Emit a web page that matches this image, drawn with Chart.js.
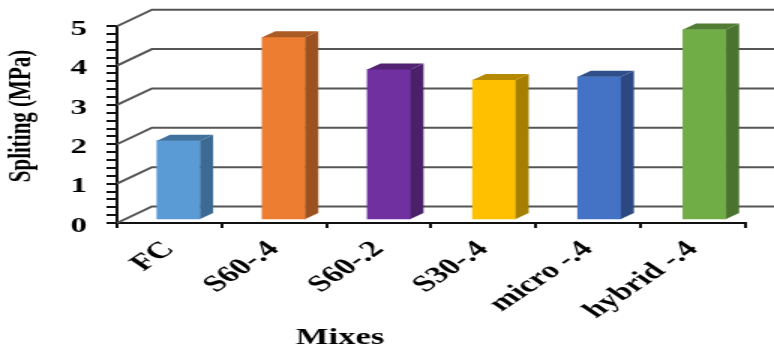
<!DOCTYPE html>
<html>
<head>
<meta charset="utf-8">
<style>
  html, body { margin: 0; background: #fff; overflow: hidden; }
  /* the figure is drawn narrow and widened by half */
  #wrap { width: 516px; height: 352px; transform: scaleX(1.5); transform-origin: 0 0; }
</style>
<script src="https://cdn.jsdelivr.net/npm/chart.js@4/dist/chart.umd.min.js"></script>
</head>
<body>
<div id="wrap"><canvas id="chart" width="516" height="352"></canvas></div>
<script>
/* data */
const mixes = ['FC', 'S60-.4', 'S60-.2', 'S30-.4', 'micro -.4', 'hybrid -.4'];
const spliting = [2.0, 4.64, 3.82, 3.55, 3.63, 4.84];
const frontColors = ['#5b9bd5', '#ed7d31', '#7030a0', '#ffc000', '#4472c4', '#70ad47'];
const sideColors = ['#3c6a92', '#9c5220', '#4a2069', '#a67e00', '#2b4880', '#4b7330'];
const topColors = ['#41729e', '#ab5b24', '#512372', '#b58a00', '#2f4f8b', '#517c34'];

/* box depth and back wall offset, px */
const BAR_DX = 8.7, BAR_DY = -6;
const WALL_DX = 23.3, WALL_DY = -16.5;
const SERIF = '"Liberation Serif", serif';

/* back wall grid lines with the oblique run to the front axis */
const wallPlugin = {
  id: 'wall',
  beforeDatasetsDraw(chart) {
    const { ctx, scales: { y }, chartArea: area, width } = chart;
    ctx.save();
    ctx.strokeStyle = '#555';
    ctx.lineWidth = 2;
    for (let v = 0; v <= 5; v++) {
      const py = y.getPixelForValue(v);
      ctx.beginPath();
      ctx.moveTo(area.left, py);
      ctx.lineTo(area.left + WALL_DX, py + WALL_DY);
      ctx.lineTo(width, py + WALL_DY);
      ctx.stroke();
    }
    ctx.restore();
  }
};

/* side and top faces of each bar, drawn off the bar element geometry */
const boxPlugin = {
  id: 'box',
  afterDatasetsDraw(chart) {
    const { ctx } = chart;
    chart.getDatasetMeta(0).data.forEach((bar, i) => {
      const left = bar.x - bar.width / 2, right = bar.x + bar.width / 2;
      ctx.fillStyle = sideColors[i];
      ctx.beginPath();
      ctx.moveTo(right, bar.y);
      ctx.lineTo(right + BAR_DX, bar.y + BAR_DY);
      ctx.lineTo(right + BAR_DX, bar.base + BAR_DY);
      ctx.lineTo(right, bar.base);
      ctx.closePath();
      ctx.fill();
      ctx.fillStyle = topColors[i];
      ctx.beginPath();
      ctx.moveTo(left, bar.y);
      ctx.lineTo(left + BAR_DX, bar.y + BAR_DY);
      ctx.lineTo(right + BAR_DX, bar.y + BAR_DY);
      ctx.lineTo(right, bar.y);
      ctx.closePath();
      ctx.fill();
    });
  }
};

/* axis captions sit off centre, so they are placed by hand */
const captionPlugin = {
  id: 'caption',
  afterDraw(chart) {
    const { ctx } = chart;
    ctx.save();
    ctx.font = 'bold 23px ' + SERIF;
    ctx.fillStyle = '#000';
    ctx.textAlign = 'center';
    ctx.textBaseline = 'middle';
    ctx.fillText('Mixes', 226.7, 338);
    ctx.font = 'bold 21px ' + SERIF;
    ctx.translate(14.5, 116);
    ctx.rotate(-Math.PI / 2);
    ctx.fillText('Spliting (MPa)', 0, 0);
    ctx.restore();
  }
};

new Chart(document.getElementById('chart'), {
  type: 'bar',
  data: {
    labels: mixes,
    datasets: [{
      data: spliting.map((v, i) => ({ x: i, y: v })),
      xAxisID: 'xBars',
      yAxisID: 'yBars',
      backgroundColor: frontColors,
      borderWidth: 0,
      barThickness: 28.7,
      clip: false
    }]
  },
  options: {
    responsive: false,
    animation: false,
    layout: { padding: { right: 19.3, top: 25 } },
    plugins: { legend: { display: false }, tooltip: { enabled: false } },
    scales: {
      x: {
        type: 'category',
        offset: true,
        afterFit: s => { s.height = 129; },
        border: { color: '#111', width: 2 },
        grid: { offset: true, drawOnChartArea: false, color: '#111', lineWidth: 2, tickLength: 5 },
        ticks: {
          autoSkip: false,
          minRotation: 45,
          maxRotation: 45,
          padding: 8,
          color: '#000',
          font: { family: SERIF, weight: 'bold', size: 23 }
        }
      },
      y: {
        min: 0,
        max: 5,
        afterFit: s => { s.width = 78; },
        border: { color: '#111', width: 2 },
        grid: { drawOnChartArea: false, color: '#111', lineWidth: 2, tickLength: 7 },
        ticks: {
          stepSize: 0.2,
          autoSkip: false,
          padding: 13,
          labelOffset: 3,
          color: '#000',
          font: { family: SERIF, weight: 'bold', size: 22 },
          callback: v => {
            const r = Math.round(v * 10) / 10;
            return Number.isInteger(r) ? r : '';
          }
        }
      },
      /* bars stand a little inside the front axes */
      xBars: { type: 'linear', display: false, offset: false, min: -0.585, max: 5.385 },
      yBars: { display: false, min: -0.1015, max: 4.924 }
    }
  },
  plugins: [wallPlugin, boxPlugin, captionPlugin]
});
</script>
</body>
</html>
